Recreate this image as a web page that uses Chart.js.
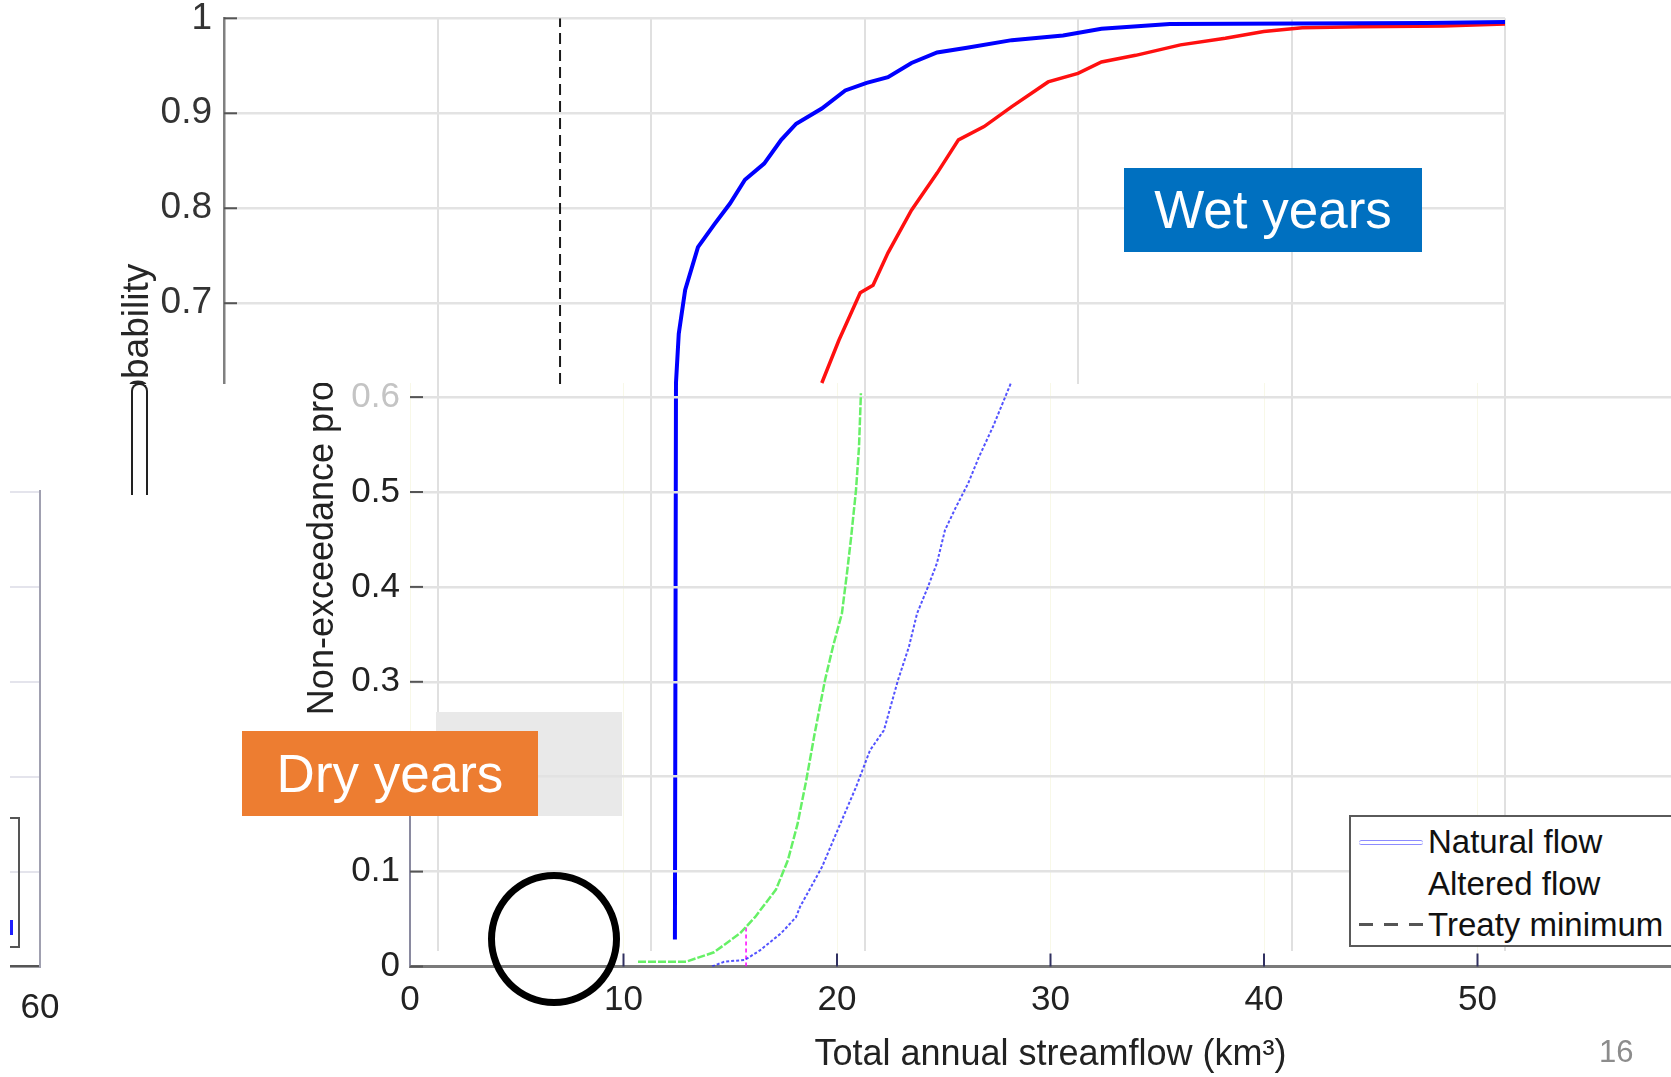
<!DOCTYPE html>
<html>
<head>
<meta charset="utf-8">
<script src="https://cdn.jsdelivr.net/npm/chart.js@4.4.1/dist/chart.umd.min.js"></script>
<style>
  html, body { margin: 0; padding: 0; background: #fff; overflow: hidden; width: 1671px; height: 1077px; }
  body { position: relative; font-family: "Liberation Sans", Arial, Helvetica, sans-serif; }
  canvas { display: block; }
  .abs { position: absolute; }
  .mask { position: absolute; background: #fff; }
  #wet { position: absolute; left: 0; top: 0; }
  #dryClip { position: absolute; left: 0; top: 383px; width: 1671px; height: 694px; overflow: hidden; }
  #dry { position: absolute; left: 0; top: -383px; }
  #sideClip { position: absolute; left: 10px; top: 490px; width: 70px; height: 587px; overflow: hidden; }
  #side { position: absolute; left: -340px; top: -490px; }
  .tag { position: absolute; color: #fff; font-size: 53px; text-align: center; }
  #legend { position: absolute; left: 1349px; top: 815px; width: 400px; height: 132px; box-sizing: border-box;
            border: 2px solid #5a5a5a; background: #fff; padding-top: 4px; }
  #legend .row { position: relative; height: 41.5px; line-height: 41.5px; font-size: 33px; color: #111; }
  #legend .sample { position: absolute; left: 8px; top: 19px; width: 64px; box-sizing: border-box; }
  #legend .txt { position: absolute; left: 77px; top: 0; white-space: nowrap; }
</style>
</head>
<body>

<canvas id="wet" width="1671" height="1077"></canvas>

<!-- white patches of the pasted slide -->
<div class="mask" style="left:100px; top:384px; width:305px; height:693px;"></div>
<div class="mask" style="left:1072px; top:384px; width:12px; height:590px;"></div>
<div class="mask" style="left:405px; top:951px; width:1266px; height:126px;"></div>
<div class="abs" style="left:436px; top:712px; width:186px; height:104px; background:#e9e9e9;"></div>

<div id="dryClip"><canvas id="dry" width="1700" height="1077"></canvas></div>

<div id="sideClip">
  <canvas id="side" width="400" height="1077"></canvas>
  <div class="abs" style="left:-110px; top:327px; width:120px; height:131px; border:2px solid #555; box-sizing:border-box;"></div>
  <div class="abs" style="left:0; top:430px; width:3px; height:15px; background:#2020ff;"></div>
</div>

<div class="abs" style="left:131px; top:383px; width:17px; height:112px; border:2.5px solid #222; border-bottom:none; border-radius:8px 8px 0 0; box-sizing:border-box;"></div>

<div class="tag" style="left:1124px; top:168px; width:298px; height:84px; line-height:84px; background:#0070c0;">Wet years</div>
<div class="tag" style="left:242px; top:731px; width:296px; height:85px; line-height:85px; background:#ed7d31;">Dry years</div>
<div class="abs" style="left:488px; top:872px; width:132px; height:134px; border:7px solid #000; border-radius:50%; box-sizing:border-box;"></div>

<div id="legend"></div>
<div class="abs" style="left:1599px; top:1034px; font-size:31px; color:#8c8c8c;">16</div>

<script>
// ---- data ----
var seriesLabels = ["Natural flow", "Altered flow", "Treaty minimum"];
var treatyMin = 15.74;

// wet years (upper panel)
var wetNaturalX = [21.12, 21.17, 21.3, 21.6, 22.2, 23.0, 23.7, 24.4, 25.3, 26.1, 26.8, 28.0, 29.1, 30.1, 31.1, 32.2, 33.4, 34.8, 36.9, 39.3, 41.1, 44.3, 56.3, 60];
var wetNaturalY = [0.03, 0.616, 0.668, 0.714, 0.759, 0.784, 0.805, 0.830, 0.847, 0.872, 0.889, 0.905, 0.924, 0.932, 0.938, 0.953, 0.964, 0.969, 0.977, 0.982, 0.989, 0.994, 0.995, 0.996];
var wetAlteredX = [28.0, 28.8, 29.8, 30.4, 31.1, 32.2, 33.4, 34.4, 35.6, 36.9, 38.6, 40.0, 41.1, 42.7, 44.8, 46.9, 48.7, 50.5, 53.2, 57.1, 60];
var wetAlteredY = [0.616, 0.661, 0.711, 0.719, 0.753, 0.798, 0.837, 0.872, 0.886, 0.907, 0.933, 0.942, 0.954, 0.961, 0.972, 0.979, 0.986, 0.990, 0.991, 0.992, 0.994];
var treatyWetY = [0.615, 1];

// dry years (lower panel)
var dryNaturalX = [14.15, 14.71, 15.69, 16.39, 17.38, 18.08, 18.27, 19.30, 20.09, 20.89, 21.55, 22.20, 22.86, 23.37, 23.75, 24.26, 24.68, 25.06, 25.57, 26.14, 26.65, 27.31, 28.15];
var dryNaturalY = [0.0, 0.005, 0.007, 0.017, 0.035, 0.052, 0.063, 0.105, 0.147, 0.189, 0.228, 0.249, 0.302, 0.337, 0.372, 0.400, 0.425, 0.460, 0.484, 0.509, 0.537, 0.569, 0.615];
var dryAlteredX = [10.68, 12.93, 14.24, 15.46, 16.16, 17.14, 17.70, 18.15, 18.55, 18.95, 19.44, 19.81, 20.23, 20.47, 20.66, 20.89, 21.03, 21.12];
var dryAlteredY = [0.005, 0.005, 0.015, 0.035, 0.052, 0.081, 0.112, 0.150, 0.195, 0.245, 0.302, 0.337, 0.372, 0.415, 0.452, 0.502, 0.547, 0.604];
var treatyDryY = [0, 0.042];

// axes
var xMin = 0, xMax = 60, xStep = 10;
var yMin = 0, yMax = 1, yStep = 0.1;

Chart.defaults.font.family = '"Liberation Sans", Arial, Helvetica, sans-serif';

function pts(xs, ys) {
    return xs.map(function(x, i) { return {x: x, y: ys[i]}; });
}
function tenth(v) { return String(Math.round(v * 10) / 10); }
function fixWidth(w) {
    return function(scale) { scale.width = w; scale.paddingTop = 0; scale.paddingBottom = 0; };
}
function fixHeight(h) {
    return function(scale) { scale.height = h; scale.paddingLeft = 0; scale.paddingRight = 0; };
}

// MATLAB style ticks pointing into the plot
var inwardTicks = {
    id: 'inwardTicks',
    afterDraw: function(chart, args, o) {
        var ctx = chart.ctx, a = chart.chartArea;
        ctx.save();
        ctx.lineWidth = o.width || 2;
        if (o.axisSeg) {
            ctx.strokeStyle = o.axisColor;
            ctx.beginPath();
            ctx.moveTo(a.left, chart.scales.y.getPixelForValue(o.axisSeg[0]));
            ctx.lineTo(a.left, chart.scales.y.getPixelForValue(o.axisSeg[1]));
            ctx.stroke();
        }
        if (o.yRange) {
            ctx.strokeStyle = o.yColor;
            chart.scales.y.ticks.forEach(function(t) {
                if (t.value < o.yRange[0] || t.value > o.yRange[1]) return;
                var py = chart.scales.y.getPixelForValue(t.value);
                ctx.beginPath(); ctx.moveTo(a.left, py); ctx.lineTo(a.left + o.length, py); ctx.stroke();
            });
        }
        if (o.xRange) {
            ctx.strokeStyle = o.xColor;
            chart.scales.x.ticks.forEach(function(t) {
                if (t.value < o.xRange[0] || t.value > o.xRange[1]) return;
                var px = chart.scales.x.getPixelForValue(t.value);
                ctx.beginPath(); ctx.moveTo(px, a.bottom); ctx.lineTo(px, a.bottom - o.length); ctx.stroke();
            });
        }
        ctx.restore();
    }
};

// ---- upper panel: wet years ----
var wetChart = new Chart(document.getElementById('wet'), {
    type: 'line',
    data: {
        datasets: [
            { label: seriesLabels[0], data: pts(wetNaturalX, wetNaturalY), borderColor: '#0000ff', borderWidth: 4 },
            { label: seriesLabels[1], data: pts(wetAlteredX, wetAlteredY), borderColor: '#ff1010', borderWidth: 3.5 },
            { label: seriesLabels[2], data: pts([treatyMin, treatyMin], treatyWetY), borderColor: '#1a1a1a', borderWidth: 2, borderDash: [11, 6] }
        ]
    },
    options: {
        responsive: false,
        animation: false,
        layout: { padding: { left: 100, right: 166, top: 18.3, bottom: 0 } },
        elements: { point: { radius: 0 }, line: { tension: 0, fill: false } },
        plugins: {
            legend: { display: false },
            tooltip: { enabled: false },
            inwardTicks: { width: 2, length: 13, yColor: '#555', yRange: [0.65, 1.01] }
        },
        scales: {
            x: {
                type: 'linear', min: xMin, max: xMax,
                ticks: { stepSize: xStep, display: false },
                grid: { color: '#e0e0e0', lineWidth: 2, drawTicks: false },
                border: { display: false },
                afterFit: fixHeight(109)
            },
            y: {
                type: 'linear', min: yMin, max: yMax,
                ticks: {
                    stepSize: yStep, padding: 12, color: '#333', font: { size: 37 },
                    callback: function(v) { return v > 0.65 ? tenth(v) : ''; }
                },
                grid: {
                    color: function(c) { return c.tick && c.tick.value > 0.65 ? '#e3e3e3' : 'rgba(0,0,0,0)'; },
                    lineWidth: 2.5, drawTicks: false
                },
                border: { display: true, color: '#808080', width: 2.5 },
                title: { display: true, text: 'Non-exceedance probability', color: '#262626', font: { size: 37 }, padding: { top: 15.8, bottom: 0 } },
                afterFit: fixWidth(124)
            }
        }
    },
    plugins: [inwardTicks]
});

// ---- lower panel: dry years ----
var dryChart = new Chart(document.getElementById('dry'), {
    type: 'line',
    data: {
        datasets: [
            { label: seriesLabels[0], data: pts(dryNaturalX, dryNaturalY), borderColor: 'rgba(40,40,255,0.8)', borderWidth: 2, borderDash: [3, 2] },
            { label: seriesLabels[1], data: pts(dryAlteredX, dryAlteredY), borderColor: '#66f066', borderWidth: 2.5, borderDash: [8, 2] },
            { label: seriesLabels[2], data: pts([treatyMin, treatyMin], treatyDryY), borderColor: '#ff00ff', borderWidth: 1.5, borderDash: [4, 3] }
        ]
    },
    options: {
        responsive: false,
        animation: false,
        layout: { padding: { left: 280, right: 9, top: 17.5, bottom: 0 } },
        elements: { point: { radius: 0 }, line: { tension: 0, fill: false } },
        plugins: {
            legend: { display: false },
            tooltip: { enabled: false },
            inwardTicks: {
                width: 2, length: 13,
                yColor: '#555', yRange: [-0.01, 0.65],
                xColor: '#303060', xRange: [5, 55],
                axisSeg: [0, 0.16], axisColor: '#8a8aa0'
            }
        },
        scales: {
            x: {
                type: 'linear', min: xMin, max: xMax,
                ticks: {
                    stepSize: xStep, padding: 13, color: '#222', font: { size: 35 }, maxRotation: 0, autoSkip: false,
                    callback: function(v) { return v < xMax ? String(v) : ''; }
                },
                grid: { color: 'rgba(235,235,190,0.35)', lineWidth: 1, drawTicks: false },
                border: { display: true, color: '#7a7a7a', width: 3 },
                title: { display: true, text: 'Total annual streamflow (km³)', color: '#222', font: { size: 36 }, padding: { top: 0, bottom: 0 } },
                afterFit: fixHeight(110.5)
            },
            y: {
                type: 'linear', min: yMin, max: yMax,
                ticks: {
                    stepSize: yStep, padding: 10, font: { size: 35 },
                    color: function(c) { return c.tick && c.tick.value > 0.55 ? '#c4c4c4' : '#222'; },
                    callback: function(v) { return v < 0.65 ? tenth(v) : ''; }
                },
                grid: {
                    color: function(c) { return c.tick && c.tick.value < 0.65 ? '#e2e2e2' : 'rgba(0,0,0,0)'; },
                    lineWidth: 2.5, drawTicks: false
                },
                border: { display: false },
                title: { display: true, text: 'Non-exceedance probability', color: '#222', font: { size: 36 }, padding: { top: 21, bottom: 0 } },
                afterFit: fixWidth(130)
            }
        }
    },
    plugins: [inwardTicks]
});

// ---- scrap of a third panel on the far left ----
var sideChart = new Chart(document.getElementById('side'), {
    type: 'line',
    data: { datasets: [] },
    options: {
        responsive: false,
        animation: false,
        layout: { padding: { left: 0, right: 30, top: 17.5, bottom: 0 } },
        plugins: { legend: { display: false }, tooltip: { enabled: false } },
        scales: {
            x: {
                type: 'linear', min: xMin, max: xMax,
                ticks: {
                    stepSize: xStep, padding: 13, color: '#222', font: { size: 35 }, maxRotation: 0, autoSkip: false,
                    callback: function(v) { return v === xMax ? String(v) : ''; }
                },
                grid: { display: false },
                border: { display: true, color: '#555', width: 2.5 },
                afterFit: fixHeight(110.5)
            },
            y: {
                type: 'linear', position: 'right', min: yMin, max: yMax,
                ticks: { stepSize: yStep, display: false },
                grid: { color: '#e4e4ec', lineWidth: 2, drawTicks: false },
                border: { display: true, color: '#a0a0b0', width: 2 },
                afterFit: fixWidth(0)
            }
        }
    }
});

// ---- legend of the lower panel ----
var legendSample = {
    'Natural flow': 'height:5px; border-top:1.5px solid #8c8cff; border-bottom:1.5px solid #8c8cff; border-radius:3px;',
    'Altered flow': '',
    'Treaty minimum': 'height:3px; background:repeating-linear-gradient(to right,#555 0 14px,transparent 14px 25px);'
};
var legendBox = document.getElementById('legend');
dryChart.data.datasets.forEach(function(ds) {
    var row = document.createElement('div');
    row.className = 'row';
    row.innerHTML = '<div class="sample" style="' + legendSample[ds.label] + '"></div><span class="txt">' + ds.label + '</span>';
    legendBox.appendChild(row);
});
</script>
</body>
</html>
